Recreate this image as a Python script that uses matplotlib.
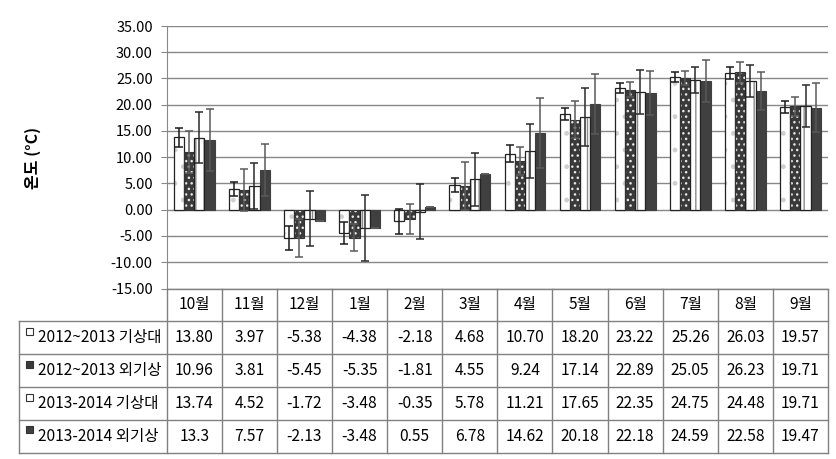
import numpy as np
import matplotlib.pyplot as plt
from matplotlib.patches import Rectangle

plt.rcParams['font.family'] = ['Noto Sans CJK KR', 'DejaVu Sans']
plt.rcParams['hatch.linewidth'] = 1.0

# 월 / 계열 / 값
months = ['10월', '11월', '12월', '1월', '2월', '3월', '4월', '5월', '6월', '7월', '8월', '9월']
labels = ['2012~2013 기상대', '2012~2013 외기상', '2013-2014 기상대', '2013-2014 외기상']

s1 = [13.80, 3.97, -5.38, -4.38, -2.18, 4.68, 10.70, 18.20, 23.22, 25.26, 26.03, 19.57]
s2 = [10.96, 3.81, -5.45, -5.35, -1.81, 4.55, 9.24, 17.14, 22.89, 25.05, 26.23, 19.71]
s3 = [13.74, 4.52, -1.72, -3.48, -0.35, 5.78, 11.21, 17.65, 22.35, 24.75, 24.48, 19.71]
s4 = [13.3, 7.57, -2.13, -3.48, 0.55, 6.78, 14.62, 20.18, 22.18, 24.59, 22.58, 19.47]
s_txt = [
    ['13.80', '3.97', '-5.38', '-4.38', '-2.18', '4.68', '10.70', '18.20', '23.22', '25.26', '26.03', '19.57'],
    ['10.96', '3.81', '-5.45', '-5.35', '-1.81', '4.55', '9.24', '17.14', '22.89', '25.05', '26.23', '19.71'],
    ['13.74', '4.52', '-1.72', '-3.48', '-0.35', '5.78', '11.21', '17.65', '22.35', '24.75', '24.48', '19.71'],
    ['13.3', '7.57', '-2.13', '-3.48', '0.55', '6.78', '14.62', '20.18', '22.18', '24.59', '22.58', '19.47'],
]

# 오차 (그림에서 추정)
e1 = [1.8, 1.4, 2.2, 2.1, 2.4, 1.3, 1.7, 1.2, 0.9, 0.9, 1.1, 1.1]
e2 = [4.0, 4.0, 3.6, 2.6, 2.9, 4.6, 2.7, 3.5, 1.4, 1.3, 2.0, 1.8]
e3 = [4.8, 4.3, 5.2, 6.2, 5.2, 5.1, 5.2, 5.6, 4.2, 2.5, 3.0, 4.0]
e4 = [5.9, 4.9, 0, 0, 0, 0, 6.7, 5.7, 4.2, 4.0, 3.6, 4.6]

W, H = 837, 459
fig = plt.figure(figsize=(W / 100, H / 100), dpi=100)
L, R, T, B = 166.7, 828.0, 26.0, 288.5
ax = fig.add_axes([L / W, 1 - B / H, (R - L) / W, (B - T) / H])

x = np.arange(len(months))
w = 0.185

# 기상대 2012~2013 : 흰색, 점
ax.bar(x - 1.5 * w, s1, w, color='white', edgecolor='#cfcfcf', hatch='.', lw=0, zorder=3)
ax.bar(x - 1.5 * w, s1, w, fill=False, edgecolor='#222222', lw=0.9, zorder=4)
# 외기상 2012~2013 : 어두운 회색, 흰 점
ax.bar(x - 0.5 * w, s2, w, color='#3a3a3a', edgecolor='#e8e8e8', hatch='...', lw=0, zorder=3)
ax.bar(x - 0.5 * w, s2, w, fill=False, edgecolor='#333333', lw=0.8, zorder=4)
# 기상대 2013-2014 : 흰색, 세로선
ax.bar(x + 0.5 * w, s3, w, color='white', edgecolor='#8a8a8a', hatch='||', lw=0, zorder=3)
ax.bar(x + 0.5 * w, s3, w, fill=False, edgecolor='#222222', lw=0.9, zorder=4)
# 외기상 2013-2014 : 진한 회색
ax.bar(x + 1.5 * w, s4, w, color='#404040', edgecolor='#404040', lw=0.8, zorder=3)

ax.errorbar(x - 1.5 * w, s1, yerr=e1, fmt='none', ecolor='#1a1a1a', elinewidth=1.1, capsize=3, capthick=1.1, zorder=5)
ax.errorbar(x - 0.5 * w, s2, yerr=e2, fmt='none', ecolor='#5a5a5a', elinewidth=1.1, capsize=3, capthick=1.1, zorder=5)
ax.errorbar(x + 0.5 * w, s3, yerr=e3, fmt='none', ecolor='#2a2a2a', elinewidth=1.1, capsize=3, capthick=1.1, zorder=5)
ax.errorbar(x + 1.5 * w, s4, yerr=e4, fmt='none', ecolor='#5a5a5a', elinewidth=1.1, capsize=3, capthick=1.1, zorder=5)

ax.set_xlim(-0.5, len(months) - 0.5)
ax.set_ylim(-15, 35)
ax.set_yticks(np.arange(-15, 36, 5))
ax.set_yticklabels(['%.2f' % v for v in np.arange(-15, 36, 5)], fontsize=10.5)
ax.set_xticks([])
ax.yaxis.grid(True, color='#888888', lw=1.0, zorder=0)
ax.set_axisbelow(True)
for sp in ['top', 'right', 'bottom']:
    ax.spines[sp].set_visible(False)
ax.spines['left'].set_color('#888888')
ax.tick_params(axis='y', length=4, color='#888888', pad=6)

fig.text(33 / W, 1 - 158 / H, '온도 (°C)', rotation=90, ha='center', va='center',
         fontsize=11.5, fontweight='bold')

# 데이터 표 (픽셀 위치 -> 그림 좌표)
def fx(px):
    return px / W

def fy(py):
    return 1 - py / H

colw = (R - L) / len(months)
rows_y = [B, 321.0, 354.0, 387.0, 420.0, 452.7]
tl = 19.3
lc = '#808080'

# 가로선
fig.add_artist(plt.Line2D([fx(L), fx(R)], [fy(rows_y[0])] * 2, color=lc, lw=1.0))
for yy in rows_y[1:]:
    fig.add_artist(plt.Line2D([fx(tl), fx(R)], [fy(yy)] * 2, color=lc, lw=1.0))
# 세로선
fig.add_artist(plt.Line2D([fx(tl), fx(tl)], [fy(rows_y[1]), fy(rows_y[-1])], color=lc, lw=1.0))
for k in range(len(months) + 1):
    xx = L + k * colw
    fig.add_artist(plt.Line2D([fx(xx), fx(xx)], [fy(rows_y[0]), fy(rows_y[-1])], color=lc, lw=1.0))

fs = 11.2
for k, m in enumerate(months):
    fig.text(fx(L + (k + 0.5) * colw), fy((rows_y[0] + rows_y[1]) / 2), m,
             ha='center', va='center', fontsize=fs)
fc = ['white', '#3a3a3a', 'white', '#404040']
for i in range(4):
    yc = (rows_y[i + 1] + rows_y[i + 2]) / 2
    fig.text(fx(38), fy(yc), labels[i], ha='left', va='center', fontsize=fs)
    fig.patches.append(Rectangle((fx(26), fy(yc - 3)), 7 / W, 7 / H,
                                 transform=fig.transFigure, facecolor=fc[i],
                                 edgecolor='#333333', lw=0.8))
    for k in range(len(months)):
        fig.text(fx(L + (k + 0.5) * colw), fy(yc), s_txt[i][k],
                 ha='center', va='center', fontsize=fs)

fig.savefig('out.png', dpi=100)
